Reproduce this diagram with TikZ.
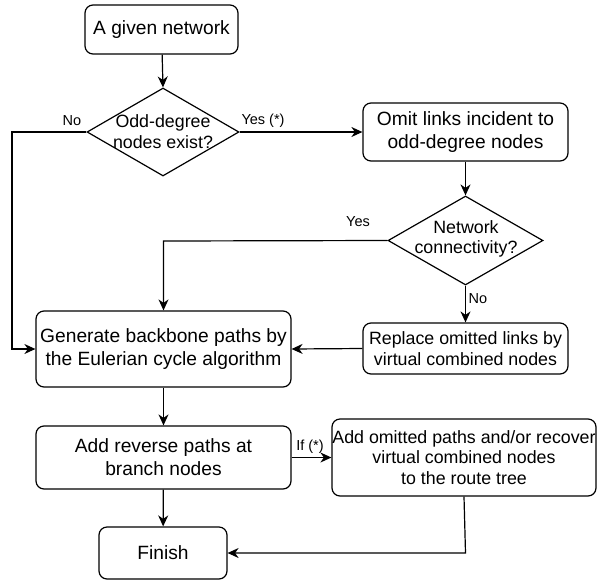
\documentclass[tikz,border=0pt]{standalone}
\usepackage{fontspec}
\setmainfont{Liberation Sans}
\usetikzlibrary{arrows.meta,shapes.geometric}
\begin{document}
\begin{tikzpicture}[x=1pt,y=-1pt,
  big/.style={font=\fontsize{19.2}{23}\selectfont},
  small/.style={font=\fontsize{17.8}{20.5}\selectfont},
  box/.style={draw, rounded corners=8pt, line width=1.2pt, align=center, inner sep=0pt},
  dia/.style={draw, diamond, line width=1.2pt, inner sep=0pt},
  txt/.style={align=center, inner sep=0pt},
  lbl/.style={inner sep=0pt, font=\fontsize{14.5}{16}\selectfont},
  link/.style={line width=1.2pt, -{Stealth[length=11pt,width=10pt,inset=3.5pt]}}]
\useasboundingbox (0,0) rectangle (597,587);

% process boxes and decisions
\node[box, big, minimum width=153, minimum height=49] (given) at (161.5,29.5) {A given network};
\node[dia, minimum width=152, minimum height=88] (d1) at (163,132) {};
\node[txt, small] (d1t) at (163,131.5) {Odd-degree\\nodes exist?};
\node[box, big, minimum width=205, minimum height=58] (omit) at (465.5,132) {Omit links incident to\\odd-degree nodes};
\node[dia, minimum width=155, minimum height=89] (d2) at (465.5,240.5) {};
\node[txt, small] (d2t) at (466,239) {Network\\connectivity?};
\node[box, small, minimum width=205, minimum height=51] (repl) at (465.5,348.5) {Replace omitted links by\\virtual combined nodes};
\node[box, big, minimum width=255, minimum height=76] (gen) at (163.5,349) {Generate backbone paths by\\the Eulerian cycle algorithm};
\node[box, big, minimum width=255, minimum height=63] (rev) at (163.5,457.5) {Add reverse paths at\\branch nodes};
\node[box, small, minimum width=264, minimum height=77] (addom) at (464,457.5) {Add omitted paths and/or recover\\virtual combined nodes\\to the route tree};
\node[box, big, minimum width=128, minimum height=52] (fin) at (163,553) {Finish};

% helper corners
\coordinate (c1) at (12,132);
\coordinate (c2) at (12,349);
\coordinate (c3) at (163.5,241);
\coordinate (c4) at (465.5,553);

% connectors
\draw[link] (given) -- (d1.north);
\draw[link] (d1.east) -- (omit.west);
\draw[link] (d1.west) -- (c1) -- (c2) -- (gen.west);
\draw[link] (omit) -- (d2.north);
\draw[link] (d2.west) -- (c3) -- (gen.north);
\draw[link] (d2.south) -- (repl.north);
\draw[link] (repl.west) -- (gen.east);
\draw[link] (gen) -- (rev);
\draw[link] (rev.east) -- (addom.west);
\draw[link] (rev) -- (fin);
\draw[link] (addom.south) -- (c4) -- (fin.east);

% connector labels
\node[lbl] (lno1) at (72,121) {No};
\node[lbl] (lyes1) at (263,121) {Yes (*)};
\node[lbl] (lyes2) at (358,222) {Yes};
\node[lbl] (lno2) at (478,299) {No};
\node[lbl] (lif) at (310,447) {If (*)};
\end{tikzpicture}
\end{document}
